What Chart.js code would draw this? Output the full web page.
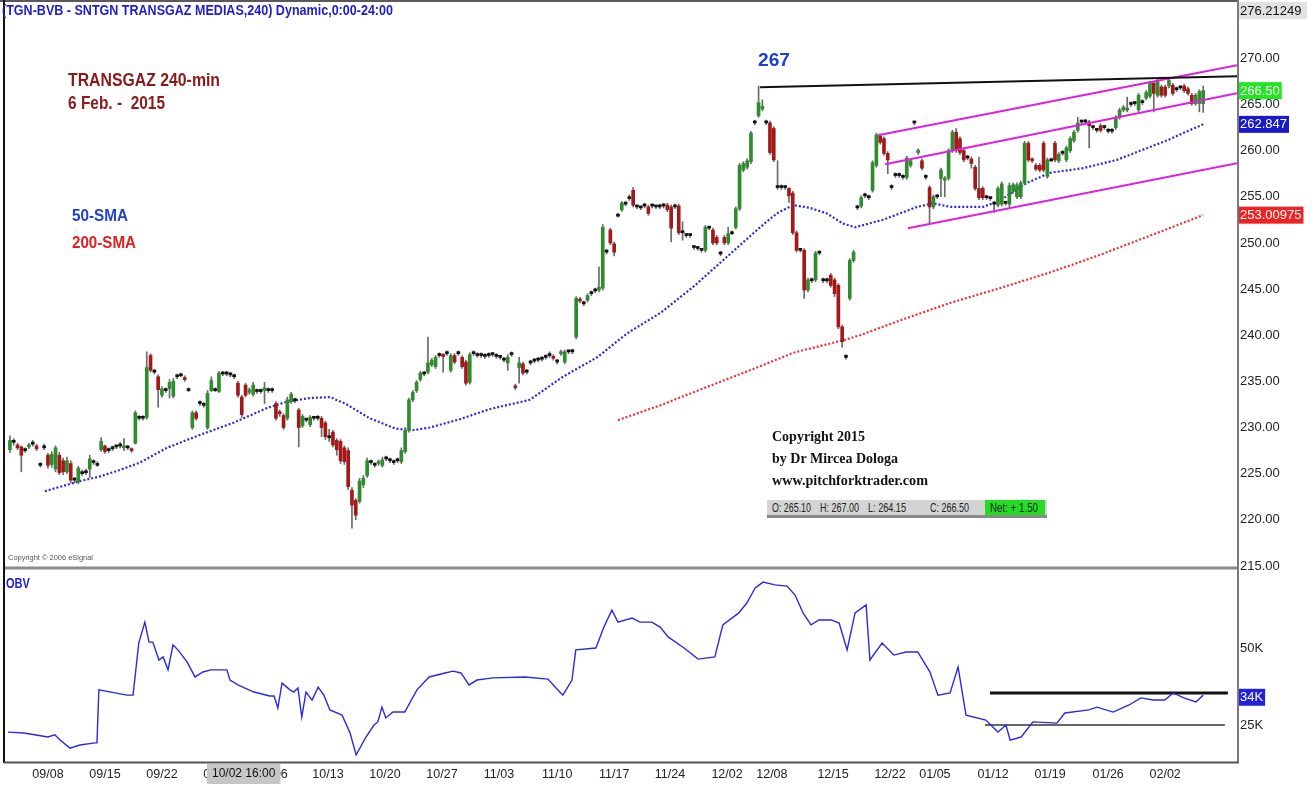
<!DOCTYPE html>
<html><head><meta charset="utf-8">
<script src="https://cdn.jsdelivr.net/npm/chart.js@4"></script>
<style>
html,body{margin:0;padding:0;background:#fff;width:1314px;height:803px;overflow:hidden;}
#wrap{position:relative;width:1314px;height:803px;}
#c{position:absolute;left:0;top:0;}
.t{position:absolute;white-space:nowrap;z-index:2;font-family:"Liberation Sans",Arial,sans-serif;line-height:1;}
.s{font-family:"Liberation Serif","Times New Roman",serif;font-weight:bold;color:#111;font-size:15px;}
#ohlc{position:absolute;left:767px;top:500px;width:280px;height:15px;background:#d4d4d4;border-bottom:3px solid #8a8a8a;z-index:2;font-family:"Liberation Sans",Arial,sans-serif;font-size:13px;color:#222;}
#ohlc span{position:absolute;top:1px;white-space:nowrap;line-height:1;}
#net{position:absolute;left:218px;top:0;width:60px;height:15px;background:#22dd22;}
</style></head><body>
<div id="wrap">
<canvas id="c" width="1314" height="803"></canvas>
<div class="t" data-w="391" style="left:2px;top:3px;font-size:14px;font-weight:bold;color:#1c1ccc;">(TGN-BVB - SNTGN TRANSGAZ MEDIAS,240) Dynamic,0:00-24:00</div>
<div class="t" data-w="152" style="left:68px;top:71px;font-size:18px;font-weight:bold;color:#8b1a1a;">TRANSGAZ 240-min</div>
<div class="t" data-w="97" style="left:68px;top:94px;font-size:18px;font-weight:bold;color:#8b1a1a;">6 Feb. -&nbsp; 2015</div>
<div class="t" data-w="32" style="left:758px;top:50px;font-size:19px;font-weight:bold;color:#1f3fd0;">267</div>
<div class="t" data-w="56" style="left:72px;top:207px;font-size:17px;font-weight:bold;color:#1f3fd0;">50-SMA</div>
<div class="t" data-w="64" style="left:72px;top:234px;font-size:17px;font-weight:bold;color:#e02020;">200-SMA</div>
<div class="t s" data-w="93" style="left:772px;top:429px;">Copyright 2015</div>
<div class="t s" data-w="126" style="left:772px;top:451px;">by Dr Mircea Dologa</div>
<div class="t s" data-w="156" style="left:772px;top:473px;">www.pitchforktrader.com</div>
<div id="ohlc"><div id="net"></div><span data-w="39" style="left:5px">O: 265.10</span><span data-w="39" style="left:53px">H: 267.00</span><span data-w="38" style="left:101px">L: 264.15</span><span data-w="39" style="left:163px">C: 266.50</span><span data-w="48" style="left:223px">Net: + 1.50</span></div>
<div class="t" data-w="85" style="left:8px;top:554px;font-size:8px;color:#555;">Copyright © 2006 eSignal</div>
<div class="t" data-w="24" style="left:6px;top:576px;font-size:14px;font-weight:bold;color:#2222cc;">OBV</div>
</div>
<script>
// ---- x axis (bar index) tick labels ----
const tickPos = [10,25,40,55,69,83.7,98.7,113.7,128.7,144,159,173.7,188.7,200.5,216.6,231.6,243.4,258.7,273.7,289,304];
const tickLabels = ['09/08','09/15','09/22','09/29','10/06','10/13','10/20','10/27','11/03','11/10','11/17','11/24','12/02','12/08','12/15','12/22','01/05','01/12','01/19','01/26','02/02'];
const cursorLabel = '10/02 16:00';
const cursorPos = 61.5;
const priceTicks = [215,220,225,230,235,240,245,250,255,260,265,270];
const obvTicks = [25,50];

// ---- 240-min candles ----
const opens = [
227.6,228.5,228.1,227.9,227.5,227.9,228.2,228.0,226.0,227.8,227.0,226.0,225.5,227.0,226.4,225.2,226.1,224.4,224.1,225.0,225.2,225.5,226.2,226.0,
227.6,228.0,227.5,227.7,227.9,228.0,227.8,227.9,227.7,228.3,231.0,231.1,231.1,237.8,236.1,235.5,233.5,
234.0,234.2,233.4,235.5,235.6,235.4,234.1,230.0,231.6,232.6,232.5,230.0,234.0,234.1,233.9,
235.8,235.9,235.8,235.6,234.8,233.3,234.6,233.8,233.6,234.0,233.9,234.0,234.1,234.0,232.6,
231.7,231.3,231.0,232.8,233.0,231.9,230.2,230.9,230.3,231.0,231.0,231.0,230.5,229.0,229.5,
228.6,228.5,227.8,227.5,223.2,222.1,222.0,223.8,224.8,226.3,226.0,226.1,225.9,226.6,226.5,
226.3,226.4,226.3,227.4,229.7,233.0,234.0,235.2,235.9,236.0,236.8,236.6,237.8,237.9,238.0,
236.2,237.8,238.0,237.6,237.1,234.9,238.0,237.9,237.8,237.8,237.8,237.9,237.8,237.6,237.4,
237.0,237.9,234.5,236.5,236.9,236.1,237.0,237.2,237.3,237.4,237.6,237.8,237.7,237.2,238.0,
237.1,238.2,238.2,239.8,243.9,243.4,243.8,244.5,244.8,244.9,245.1,249.1,251.4,249.9,252.9,
253.6,254.2,254.8,255.7,253.9,253.8,254.0,253.9,254.0,254.0,253.9,254.0,254.1,253.9,253.9,
254.0,251.2,250.9,250.8,249.6,249.5,249.3,249.2,251.6,251.4,250.6,248.9,250.6,250.0,251.0,
251.7,253.7,257.9,258.2,258.8,263.0,263.8,264.5,263.1,263.0,262.4,256.1,256.1,256.0,255.9,
255.4,251.1,249.3,249.2,244.9,246.0,246.0,248.9,246.0,245.9,246.5,246.0,245.4,240.9,237.7,
244.0,248.1,253.9,254.0,255.1,255.0,255.7,258.4,261.6,261.3,259.7,256.1,257.3,257.4,257.2,
257.1,258.4,263.0,259.8,258.9,257.2,256.0,253.9,255.0,257.0,256.8,257.0,260.0,262.0,261.3,
260.0,259.2,259.1,258.2,255.9,255.9,254.9,254.8,254.3,254.1,254.2,254.3,254.2,255.6,255.0,
255.0,256.5,260.8,259.1,258.4,258.4,260.8,257.2,258.9,260.8,258.9,259.7,259.0,260.0,261.1,
262.2,263.1,263.1,263.1,262.5,262.2,262.7,262.5,262.2,262.1,262.5,263.6,264.4,264.4,265.0,
265.1,264.4,265.3,265.7,265.9,267.3,266.0,266.9,266.9,267.0,267.1,266.6,266.8,267.0,266.7,266.0,265.1,265.1,265.1];
const highs = [
229.1,228.8,228.3,228.0,227.8,228.3,228.6,228.2,226.2,228.2,227.2,227.4,228.0,227.3,226.7,226.8,226.4,224.6,225.8,225.4,225.5,227.0,226.5,226.3,
228.9,228.1,227.8,228.0,228.1,228.4,228.8,228.0,227.8,231.8,231.3,231.3,238.2,238.0,236.3,235.7,234.4,
234.3,235.2,235.3,235.8,235.9,235.6,234.3,231.8,231.8,232.9,232.7,234.0,235.5,234.3,236.1,
236.1,236.1,236.0,235.8,235.0,233.5,234.8,234.3,234.9,234.2,234.2,234.9,234.3,234.3,232.8,
231.9,231.5,233.3,233.8,233.2,232.1,231.4,231.0,231.3,231.2,231.3,231.2,230.7,229.8,229.7,
228.8,228.7,228.0,227.8,223.5,222.3,224.5,224.8,226.7,226.5,226.2,226.5,226.8,226.9,226.7,
226.5,226.7,227.8,230.0,233.2,234.0,235.1,236.1,236.1,239.8,237.5,237.8,238.1,238.0,238.3,
238.0,238.0,238.3,237.8,237.3,238.1,238.3,238.1,238.1,238.0,238.1,238.1,238.0,237.8,237.6,
237.9,238.2,234.7,237.6,237.1,236.3,237.3,237.5,237.6,237.7,237.9,238.2,237.9,237.4,238.4,
238.4,238.4,238.5,244.2,244.1,243.7,244.5,244.8,245.1,247.4,252.0,249.3,251.6,250.1,253.2,
254.5,254.5,255.2,256.0,254.1,254.0,254.3,254.1,254.2,254.1,254.2,254.3,254.3,254.1,254.2,
254.2,252.3,251.0,251.0,249.7,249.6,249.4,251.9,251.8,251.6,250.8,249.1,250.8,251.7,251.3,
253.9,258.6,258.8,259.1,262.1,263.3,267.0,265.5,263.3,263.2,262.6,258.9,256.3,256.2,256.0,
255.6,251.3,249.4,249.4,246.2,246.2,249.1,249.1,246.2,246.2,246.7,246.2,245.6,241.1,237.9,
248.3,249.2,254.1,255.1,255.4,255.2,258.9,261.9,261.8,261.5,259.9,256.3,257.6,257.6,257.4,
259.4,259.1,263.2,260.2,259.1,257.4,256.2,255.2,255.2,258.1,257.2,260.2,262.2,262.4,261.5,
260.2,259.5,259.3,258.4,259.3,256.1,255.1,255.0,254.5,256.1,256.6,254.5,256.5,256.5,256.5,
256.7,261.0,261.0,259.2,258.6,258.6,261.0,259.2,259.2,261.0,259.8,260.0,260.5,261.5,262.2,
263.6,263.3,263.4,263.3,262.7,262.4,262.9,262.7,262.4,262.4,263.8,264.6,264.9,265.8,265.3,
265.3,266.2,265.5,266.5,267.5,267.5,267.8,267.1,267.1,267.9,267.3,266.9,267.0,267.2,266.9,266.2,266.2,266.6,267.0];
const lows = [
227.3,228.1,227.6,225.2,227.3,227.7,228.0,227.5,225.7,227.6,225.6,225.7,225.2,224.9,224.9,225.0,224.0,224.0,223.9,224.8,224.9,224.6,226.0,225.8,
227.4,227.2,227.3,227.5,227.7,227.8,227.5,227.6,227.3,228.2,230.8,230.8,230.9,236.0,235.8,232.2,233.3,
233.8,233.2,233.2,235.3,235.5,235.0,233.9,229.8,230.8,232.4,232.2,229.8,233.9,233.9,233.8,
235.6,235.6,235.5,235.3,233.3,231.1,233.3,233.6,233.4,233.7,233.7,232.6,233.8,233.8,230.8,
231.2,229.8,230.8,232.6,232.7,227.9,230.0,230.6,230.1,230.8,230.8,229.0,228.7,228.5,227.9,
227.0,226.1,226.0,223.3,219.1,220.0,221.8,223.5,224.6,226.0,225.7,225.9,225.7,226.4,226.2,
226.0,226.2,226.1,227.2,229.5,232.8,233.8,235.0,235.6,235.8,236.6,236.4,237.6,236.0,237.8,
236.0,236.9,237.8,236.4,234.6,234.7,237.8,237.6,237.6,237.5,237.6,237.7,237.5,237.4,237.1,
236.2,237.7,234.1,234.8,235.7,235.8,236.8,237.0,237.1,237.2,237.4,237.6,237.3,236.9,237.8,
236.9,238.0,238.0,239.6,243.5,243.2,243.6,244.3,244.6,244.7,244.9,248.8,249.8,248.6,252.8,
253.4,254.0,254.6,253.9,253.7,253.6,253.8,253.0,253.8,253.7,253.7,253.8,253.4,250.1,253.7,
250.9,250.3,250.6,250.6,249.3,249.2,249.0,249.0,251.4,249.8,249.8,248.6,249.8,249.8,250.9,
251.5,253.5,257.7,258.0,258.6,262.8,263.6,264.3,262.8,259.6,258.8,255.8,255.8,255.8,254.4,
250.9,249.0,249.0,244.0,244.7,245.7,245.8,248.7,245.7,245.7,245.2,244.2,240.7,238.7,237.4,
243.8,247.9,253.6,253.8,254.9,254.7,255.5,258.2,260.7,259.5,257.5,255.8,257.1,257.1,256.9,
256.9,258.2,262.8,259.6,257.9,256.9,252.1,253.7,254.8,255.0,255.0,256.8,259.8,259.8,259.6,
258.8,259.0,258.1,255.7,254.7,254.7,254.7,254.6,253.3,253.9,254.0,254.1,253.9,255.4,254.8,
254.8,256.3,258.8,258.7,257.8,257.7,257.7,257.0,258.8,258.8,258.7,259.5,258.8,259.8,260.9,
262.0,262.9,262.9,260.3,262.3,262.0,262.0,262.3,261.9,261.9,262.3,263.4,264.2,264.2,264.8,
264.9,264.2,265.0,265.5,265.7,264.2,265.8,265.8,265.8,266.8,266.0,266.4,266.6,266.3,266.0,264.9,264.9,264.2,264.15];
const closes = [
228.6,228.4,227.8,227.0,227.6,228.1,228.3,227.7,225.9,227.9,225.9,227.1,227.8,225.1,225.2,226.4,224.3,224.3,225.6,225.1,225.1,226.6,226.2,225.9,
228.5,227.4,227.6,227.8,227.9,228.1,228.0,227.8,227.5,231.6,231.1,231.0,236.5,236.2,236.0,234.1,234.2,
234.1,234.9,235.0,235.6,235.7,235.2,234.0,231.6,231.0,232.7,232.4,233.7,235.1,234.0,235.9,
235.9,235.8,235.7,235.5,233.5,231.4,233.5,234.1,234.6,233.9,234.0,234.3,234.0,234.1,231.0,
231.5,230.0,233.0,233.6,232.9,230.0,231.2,230.8,231.1,231.0,231.1,230.0,229.0,228.9,228.1,
227.6,226.4,226.3,223.6,221.6,220.5,224.2,224.5,226.4,226.2,225.9,226.3,226.5,226.7,226.4,
226.2,226.5,227.5,229.7,233.0,233.8,234.9,235.9,235.8,237.0,237.3,237.6,237.9,237.7,238.1,
237.8,237.1,238.1,236.6,234.8,237.9,238.1,237.8,237.9,237.7,237.9,237.9,237.7,237.6,237.3,
237.6,238.0,234.3,237.0,235.9,236.0,237.1,237.3,237.4,237.5,237.7,237.8,237.5,237.1,238.2,
238.2,238.2,238.3,244.0,243.7,243.5,244.3,244.6,244.9,245.2,251.7,249.0,250.0,249.0,253.0,
254.3,254.3,254.9,254.1,253.9,253.8,254.1,253.2,254.0,253.9,254.0,254.1,253.6,251.6,254.0,
251.1,251.1,250.8,250.8,249.5,249.4,249.2,251.7,251.6,250.0,250.0,248.8,250.0,251.0,251.1,
253.7,258.4,258.6,258.9,261.9,263.0,265.2,264.8,263.0,259.8,259.0,256.0,256.0,256.0,255.1,
251.1,249.2,249.2,244.9,246.0,245.9,248.9,248.9,245.9,246.0,245.4,244.5,240.9,239.3,237.6,
248.1,249.0,253.8,254.9,255.2,254.9,258.7,261.7,260.9,259.7,259.0,256.0,257.4,257.3,257.1,
259.2,258.9,263.0,260.0,258.1,257.1,253.9,255.0,255.0,257.9,257.0,260.0,262.0,260.0,259.8,
259.0,259.3,258.6,255.9,254.9,254.9,254.9,254.8,254.2,255.9,256.4,254.3,256.2,256.3,256.3,
256.5,260.8,259.0,258.9,258.0,257.9,257.9,259.0,259.0,259.0,259.6,259.8,260.3,261.3,262.0,
263.0,263.1,263.2,262.7,262.5,262.2,262.2,262.5,262.1,262.2,263.6,264.4,264.7,264.6,265.1,
265.1,266.0,265.2,266.3,267.3,266.2,267.6,266.0,266.0,267.6,266.2,266.7,266.8,266.5,266.2,265.1,266.0,266.4,266.5];

// ---- moving averages (read at chart vertices) ----
const sma50X = [9.2,18.4,23.7,28.9,34.2,41.3,50,58.7,67.6,72.9,78.9,84.2,88.2,94.7,101.3,105.8,110.5,118.4,126.3,136.8,145.5,154.5,162.4,171.1,179.7,188.7,197.4,201.8,206.1,210.5,215,219.2,222.4,229.7,238.7,242.9,247.4,256.1,260.5,267.6,273.7,282.4,291.3,300,304.5,308.7,314];
const sma50Y = [223.1,224.2,224.7,225.4,226.2,227.8,229.2,230.5,232.1,232.8,233.2,233.3,232.6,231.0,229.9,229.7,230.0,230.9,232.0,233.0,235.5,237.6,240.2,242.4,245.2,248.5,251.7,253.2,254.1,253.8,253.2,252.1,251.7,252.5,253.9,254.3,253.9,253.9,254.6,256.5,257.6,258.1,259.0,260.4,261.1,261.9,262.847];
const sma200X = [160,171.1,181.6,194.7,206.1,219.7,223.7,234.2,247.4,260.5,273.7,286.8,298.2,314];
const sma200Y = [230.8,232.4,234.1,236.2,238.1,239.5,240.0,241.6,243.5,245.1,246.8,248.7,250.5,253.00975];

// ---- OBV (thousands) ----
const obvX = [-0.5,3.7,10,11.8,13.2,15.8,18.4,22.4,22.9,23.4,30.8,32.4,33.9,35.5,36.6,37.6,39.2,40.3,41.6,42.9,44.2,46.6,48.7,50.8,52.9,57.1,57.9,60,64.2,68.4,69.5,70.5,71.6,73.7,74.7,75.8,76.8,77.9,79.5,81.1,82.6,84.2,87.4,89.5,91.1,93.7,95.8,96.8,97.9,98.9,100.8,103.9,107.1,110.3,114.5,116.6,118.7,120.8,122.9,127.1,135.5,141.6,143.7,145.5,147.9,148.9,154.2,156.3,158.4,160,163.7,165.8,168.9,171.1,173.2,177.4,181.1,185.5,187.6,191.8,193.9,196.1,198.2,201.3,204.5,206.6,208.7,210.8,212.9,216.1,218.2,220.3,222.4,225.3,226.3,229.5,232.6,235.8,238.9,242.1,244.2,247.4,249.5,251.6,256.8,260,262.1,263.2,266.1,269.2,275.5,277.6,283.9,286.1,290.3,294.5,297.6,300.8,303.9,306.1,308.9,312.1,314];
const obvY = [22.7,22.4,21.1,21.8,20.1,17.5,18.5,19.2,19.2,36.4,34.7,34.7,51.6,58.4,51.9,51.9,46.1,47.1,42.9,51.0,49.4,45.5,40.6,42.2,42.9,42.9,39.6,38.0,35.7,34.4,34.4,30.5,38.6,36.4,35.7,37.0,27.6,35.7,33.1,37.3,34.7,29.9,28.2,22.4,15.3,21.1,25.0,26.0,30.8,27.3,29.2,29.2,36.4,40.6,41.9,42.5,41.9,38.0,39.6,40.3,40.6,39.9,37.0,34.7,39.6,49.4,50.0,56.8,62.3,58.4,59.7,58.4,58.4,56.8,53.6,50.0,46.4,47.1,57.5,61.4,64.6,69.5,71.4,70.5,70.1,67.2,61.4,57.5,59.1,59.1,58.1,49.4,61.4,64.0,46.1,51.6,47.7,48.7,48.7,42.2,34.7,35.4,43.8,28.2,26.6,22.7,25.0,20.1,21.1,26.0,25.6,28.9,29.9,30.8,29.2,31.5,33.8,33.1,33.1,35.4,33.8,32.5,34.7];
const obvTag = 34;

// ---- drawn trend lines (index, price) ----
const resistLine = [[197.4,266.86],[322.9,268.05]];
const chanUpper = [[228.4,261.66],[322.9,269.24]];
const chanMid = [[230.3,258.52],[322.9,266.21]];
const chanLower = [[236.3,251.6],[322.9,258.63]];
const obvHigh = [[257.9,35.4],[320.5,35.4]];
const obvLow = [[256.6,25.0],[319.7,25.0]];

const priceMax = 276.21249, priceMin = 214.78;
const obvMin = 12.99, obvMax = 75.97;

// condense overlay texts to the widths seen in the reference
document.querySelectorAll('[data-w]').forEach(el => {
  const w = el.getBoundingClientRect().width;
  el.style.transformOrigin = '0 0';
  el.style.transform = 'scaleX(' + (Number(el.dataset.w) / w) + ')';
});

const pts = (xs, ys) => xs.map((x, i) => ({x: x, y: ys[i]}));
const seg = a => a.map(p => ({x: p[0], y: p[1]}));
const wickData = closes.map((c, i) => ({x: i, y: [Math.min(lows[i], opens[i], c), Math.max(highs[i], opens[i], c)]}));
const bodyData = closes.map((c, i) => ({x: i, y: [Math.min(opens[i], c), Math.max(opens[i], c)]}));
const bodyColors = closes.map((c, i) => c - opens[i] > 0.15 ? '#2e8b2e' : (opens[i] - c > 0.15 ? '#a31818' : '#111111'));

const NF = '"Liberation Sans",Arial,sans-serif';

const deco = {
  id: 'deco',
  afterDraw(chart) {
    const ctx = chart.ctx, a = chart.chartArea, ys = chart.scales.y, yo = chart.scales.yObv, xs = chart.scales.x;
    const L = (x1, y1, x2, y2, c, w) => { ctx.beginPath(); ctx.strokeStyle = c; ctx.lineWidth = w; ctx.moveTo(x1, y1); ctx.lineTo(x2, y2); ctx.stroke(); };
    ctx.save();
    L(a.left, ys.bottom, a.right, ys.bottom, '#8c8c8c', 3);
    L(4, 0, 4, a.bottom + 1, '#111', 2);
    L(0, 1, a.right, 1, '#222', 1.5);
    L(a.right + 1, 0, a.right + 1, a.bottom + 1, '#7a7a7a', 2);
    L(4, a.bottom + 0.5, a.right + 2, a.bottom + 0.5, '#555', 2);
    ctx.font = '13px ' + NF;
    ctx.textBaseline = 'middle'; ctx.textAlign = 'left';
    ctx.fillStyle = '#e2e2e2'; ctx.fillRect(a.right + 2, 2, 68, 17);
    ctx.fillStyle = '#111'; ctx.fillText(priceMax.toFixed(5), a.right + 3, 11);
    const tag = (scale, v, txt, bg, fg) => {
      const y = scale.getPixelForValue(v);
      const w = ctx.measureText(txt).width + 3;
      ctx.fillStyle = bg; ctx.fillRect(a.right + 2, y - 8.5, w, 17);
      ctx.fillStyle = fg; ctx.fillText(txt, a.right + 3, y + 0.5);
    };
    tag(ys, closes[closes.length - 1], closes[closes.length - 1].toFixed(2), '#22e622', '#ffffff');
    tag(ys, sma50Y[sma50Y.length - 1], sma50Y[sma50Y.length - 1].toFixed(3), '#1a1acc', '#ffffff');
    tag(ys, sma200Y[sma200Y.length - 1], sma200Y[sma200Y.length - 1].toFixed(5), '#ee2222', '#ffffff');
    tag(yo, obvTag, obvTag + 'K', '#2222dd', '#ffffff');
    ctx.font = '12px ' + NF;
    const cx = xs.getPixelForValue(cursorPos);
    const cw = ctx.measureText(cursorLabel).width + 10;
    ctx.fillStyle = '#c6c6c6'; ctx.fillRect(cx - cw / 2, a.bottom + 2, cw, 20);
    ctx.fillStyle = '#111'; ctx.textAlign = 'center'; ctx.fillText(cursorLabel, cx, a.bottom + 12);
    ctx.restore();
  }
};

const lineDs = (data, color, width, axis, dash) => ({type: 'line', data: data, yAxisID: axis, borderColor: color, borderWidth: width, borderDash: dash || [], pointRadius: 0, fill: false, tension: 0, order: 0});
const noGrid = {display: false, drawTicks: false, tickLength: 0};

new Chart(document.getElementById('c'), {
  type: 'bar',
  data: {
    datasets: [
      Object.assign(lineDs(pts(sma50X, sma50Y), '#2b2bd6', 2.2, 'y', [2, 2]), {order: 5}),
      Object.assign(lineDs(pts(sma200X, sma200Y), '#ee3030', 2.2, 'y', [2, 2]), {order: 5}),
      {type: 'bar', data: wickData, yAxisID: 'y', barThickness: 1, backgroundColor: '#6a6a6a', grouped: false, order: 3},
      {type: 'bar', data: bodyData, yAxisID: 'y', barThickness: 3, backgroundColor: bodyColors, grouped: false, minBarLength: 2, order: 2},
      lineDs(seg(resistLine), '#111', 2, 'y'),
      lineDs(seg(chanUpper), '#e020e0', 2, 'y'),
      lineDs(seg(chanMid), '#e020e0', 2, 'y'),
      lineDs(seg(chanLower), '#e020e0', 2, 'y'),
      lineDs(pts(obvX, obvY), '#2a2ae0', 1.4, 'yObv'),
      lineDs(seg(obvHigh), '#111', 3, 'yObv'),
      lineDs(seg(obvLow), '#333', 1.5, 'yObv')
    ]
  },
  options: {
    responsive: false, animation: false, devicePixelRatio: 1,
    layout: {padding: {left: 5, top: 1, right: 0, bottom: 0}},
    plugins: {legend: {display: false}, tooltip: {enabled: false}},
    scales: {
      y: {
        type: 'linear', position: 'right', stack: 'p', stackWeight: 567,
        min: priceMin, max: priceMax,
        grid: noGrid, border: {display: false},
        afterBuildTicks: s => { s.ticks = priceTicks.map(v => ({value: v})); },
        afterFit: s => { s.width = 77; s.paddingTop = 0; s.paddingBottom = 0; },
        ticks: {autoSkip: false, padding: 3, color: '#222', font: {family: NF, size: 13}, callback: v => Number(v).toFixed(2)}
      },
      yObv: {
        type: 'linear', position: 'right', stack: 'p', stackWeight: 194,
        min: obvMin, max: obvMax,
        grid: noGrid, border: {display: false},
        afterBuildTicks: s => { s.ticks = obvTicks.map(v => ({value: v})); },
        afterFit: s => { s.width = 77; s.paddingTop = 0; s.paddingBottom = 0; },
        ticks: {autoSkip: false, padding: 3, color: '#222', font: {family: NF, size: 13}, callback: v => v + 'K'}
      },
      x: {
        type: 'linear', position: 'bottom', min: -1.3, max: 322.9, offset: false,
        grid: noGrid, border: {display: false},
        afterBuildTicks: s => { s.ticks = tickPos.map(v => ({value: v})); },
        afterFit: s => { s.height = 41; s.paddingLeft = 0; s.paddingRight = 0; },
        ticks: {autoSkip: false, maxRotation: 0, padding: 5, color: '#222', font: {family: NF, size: 12.5},
          callback: v => { const k = tickPos.indexOf(v); return k >= 0 ? tickLabels[k] : ''; }}
      }
    }
  },
  plugins: [deco]
});
</script>
</body></html>
